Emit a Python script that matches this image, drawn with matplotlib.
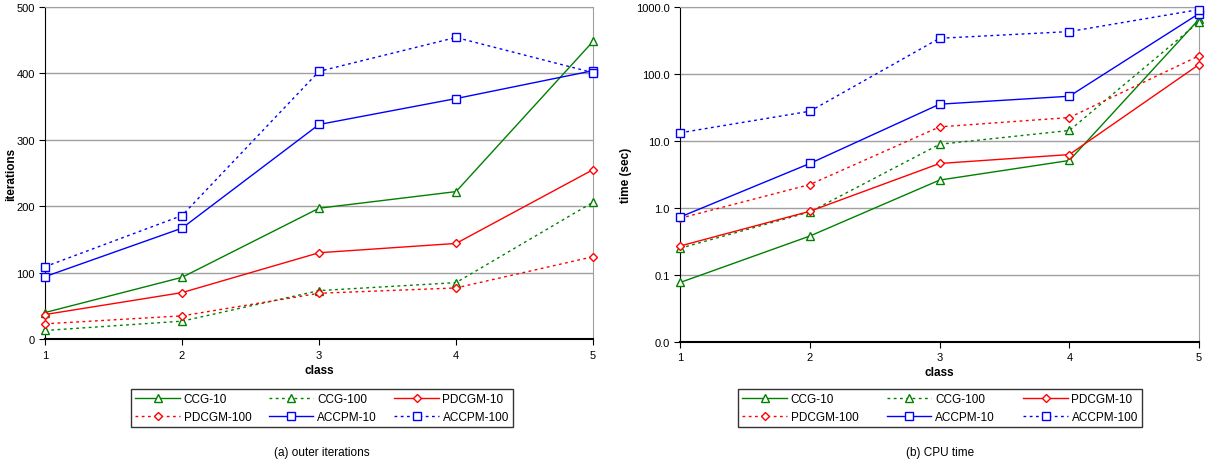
import matplotlib
matplotlib.use("Agg")
import matplotlib.pyplot as plt
from matplotlib.ticker import FixedLocator, FixedFormatter, NullLocator

plt.rcParams["font.family"] = ["Liberation Sans", "DejaVu Sans"]

classes = [1, 2, 3, 4, 5]
series_names = ["CCG-10", "CCG-100", "PDCGM-10", "PDCGM-100", "ACCPM-10", "ACCPM-100"]

# outer iterations
iter_ccg10 = [40, 93, 197, 222, 448]
iter_ccg100 = [13, 27, 73, 85, 206]
iter_pdcgm10 = [37, 70, 130, 144, 255]
iter_pdcgm100 = [23, 35, 69, 77, 124]
iter_accpm10 = [94, 167, 323, 362, 404]
iter_accpm100 = [109, 186, 403, 454, 401]

# CPU time (sec)
time_ccg10 = [0.077, 0.38, 2.6, 5.1, 655]
time_ccg100 = [0.25, 0.87, 8.9, 14.3, 597]
time_pdcgm10 = [0.27, 0.89, 4.6, 6.25, 138]
time_pdcgm100 = [0.70, 2.23, 16.2, 22.3, 186]
time_accpm10 = [0.73, 4.6, 35.3, 46.4, 795]
time_accpm100 = [13.2, 27.7, 340, 428, 912]

styles = [
    ("#008000", "-", "^"),
    ("#008000", ":", "^"),
    ("#ff0000", "-", "D"),
    ("#ff0000", ":", "D"),
    ("#0000ff", "-", "s"),
    ("#0000ff", ":", "s"),
]


def draw(ax, data):
    handles = []
    for name, vals, (col, ls, mk) in zip(series_names, data, styles):
        ms = {"^": 6, "D": 4.5, "s": 5.5}[mk]
        h, = ax.plot(classes, vals, color=col, linestyle=ls, marker=mk,
                     markersize=ms, markerfacecolor="white", markeredgecolor=col,
                     markeredgewidth=1.0, linewidth=1.0, label=name, clip_on=False,
                     zorder=3)
        if ls == ":":
            h.set_dashes([2, 2.5])
        handles.append(h)
    ax.set_xlim(1, 5)
    ax.set_xticks(classes)
    ax.grid(axis="y", color="#a0a0a0", linewidth=1.0)
    ax.set_axisbelow(True)
    for s in ("top", "right"):
        ax.spines[s].set_color("#a0a0a0")
    ax.spines["left"].set_color("black")
    ax.spines["bottom"].set_color("black")
    ax.spines["bottom"].set_linewidth(1.5)
    ax.tick_params(labelsize=8, length=4, direction="out")
    ax.set_xlabel("class", fontsize=8.5, fontweight="bold", labelpad=3)
    return handles


fig = plt.figure(figsize=(12.08, 4.64), dpi=100)
ax1 = fig.add_axes([0.0373, 0.267, 0.4536, 0.716])
ax2 = fig.add_axes([0.563, 0.261, 0.4296, 0.722])

h1 = draw(ax1, [iter_ccg10, iter_ccg100, iter_pdcgm10, iter_pdcgm100, iter_accpm10, iter_accpm100])
ax1.set_ylim(0, 500)
ax1.set_yticks([0, 100, 200, 300, 400, 500])
ax1.set_ylabel("iterations", fontsize=8.5, fontweight="bold")
ax1.yaxis.set_label_coords(-0.051, 0.5)

h2 = draw(ax2, [time_ccg10, time_ccg100, time_pdcgm10, time_pdcgm100, time_accpm10, time_accpm100])
ax2.set_yscale("log")
ax2.set_ylim(0.01, 1000)
yt = [0.01, 0.1, 1, 10, 100, 1000]
ax2.yaxis.set_major_locator(FixedLocator(yt))
ax2.yaxis.set_major_formatter(FixedFormatter(["0.0", "0.1", "1.0", "10.0", "100.0", "1000.0"]))
ax2.yaxis.set_minor_locator(NullLocator())
ax2.set_ylabel("time (sec)", fontsize=8.5, fontweight="bold")
ax2.yaxis.set_label_coords(-0.092, 0.5)

order = [0, 3, 1, 4, 2, 5]
for handles, (x0, x1) in ((h1, (131, 513)), (h2, (738, 1142))):
    hs = [handles[i] for i in order]
    leg = fig.legend(hs, [h.get_label() for h in hs], ncol=3,
                     bbox_to_anchor=(x0 / 1208, 1 - 430 / 464, (x1 - x0) / 1208, 42 / 464),
                     mode="expand", loc="center", fontsize=8.5, frameon=True,
                     fancybox=False, edgecolor="black", handlelength=3.8,
                     handletextpad=0.3, borderpad=0.35, labelspacing=0.5,
                     columnspacing=1.0, borderaxespad=0)
    leg.get_frame().set_linewidth(1.0)

fig.text(322 / 1208, 1 - 453 / 464, "(a) outer iterations", ha="center", va="center", fontsize=8.5)
fig.text(940 / 1208, 1 - 453 / 464, "(b) CPU time", ha="center", va="center", fontsize=8.5)

fig.savefig("out.png", dpi=100)
